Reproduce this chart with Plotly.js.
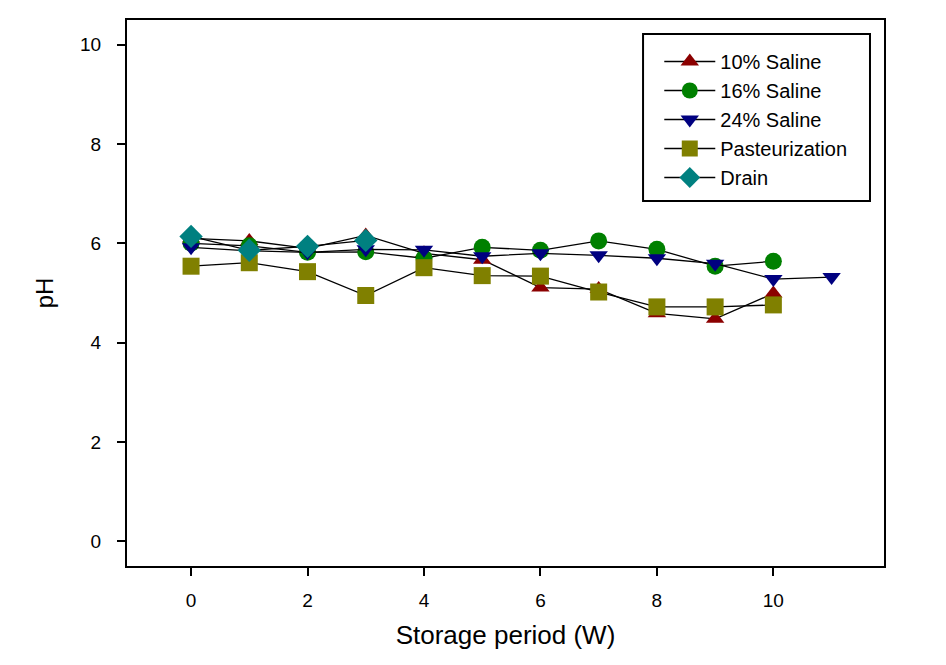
<!DOCTYPE html>
<html>
<head>
<meta charset="utf-8">
<script src="https://cdn.plot.ly/plotly-3.0.1.min.js"></script>
<style>html,body{margin:0;padding:0;background:#fff;}#chart{width:946px;height:665px;}</style>
</head>
<body>
<div id="chart"></div>
<script>
var weeks = [0, 1, 2, 3, 4, 5, 6, 7, 8, 9, 10, 11];
var saline10 = [6.10, 6.05, 5.90, 6.16, 5.80, 5.67, 5.11, 5.08, 4.59, 4.48, 4.99];
var saline16 = [6.00, 5.95, 5.82, 5.83, 5.70, 5.92, 5.86, 6.05, 5.88, 5.54, 5.64];
var saline24 = [5.92, 5.85, 5.82, 5.88, 5.87, 5.74, 5.80, 5.76, 5.70, 5.59, 5.28, 5.32];
var pasteurization = [5.54, 5.61, 5.43, 4.95, 5.51, 5.35, 5.34, 5.02, 4.72, 4.72, 4.76];
var drain = [6.14, 5.86, 5.94, 6.06];
var seriesNames = ["10% Saline", "16% Saline", "24% Saline", "Pasteurization", "Drain"];
var xTicks = [0, 2, 4, 6, 8, 10];
var yTicks = [0, 2, 4, 6, 8, 10];

var seriesData = [saline10, saline16, saline24, pasteurization, drain];
var colors = ["#8b0000", "#008000", "#000080", "#808000", "#008080"];
var symbols = ["triangle-up", "circle", "triangle-down", "square", "diamond"];
var sizes = [16, 17, 16, 17, 18];

var traces = seriesData.map(function (vals, i) {
  return {
    x: weeks.slice(0, vals.length),
    y: vals,
    name: seriesNames[i],
    type: "scatter",
    mode: "lines+markers",
    line: {color: "#000000", width: 1.3},
    marker: {symbol: symbols[i], size: sizes[i], color: colors[i], line: {width: 0}}
  };
});

var layout = {
  width: 946,
  height: 665,
  paper_bgcolor: "#ffffff",
  plot_bgcolor: "#ffffff",
  margin: {l: 127, r: 62, t: 20, b: 99},
  font: {family: "Liberation Sans, Arial, sans-serif", color: "#000000"},
  showlegend: true,
  legend: {
    x: 0.682, y: 0.9597, xanchor: "left", yanchor: "top",
    bgcolor: "rgba(0,0,0,0)", borderwidth: 0,
    font: {size: 20, color: "#000000"},
    indentation: 16,
    itemwidth: 51,
    tracegroupgap: 0
  },
  shapes: [{
    type: "rect", xref: "paper", yref: "paper",
    x0: 0.6817, x1: 0.9815, y0: 0.6685, y1: 0.9744,
    line: {color: "#000000", width: 2}, fillcolor: "#ffffff", layer: "below"
  }],
  xaxis: {
    range: [-1.1, 11.9],
    tickvals: xTicks,
    ticktext: xTicks.map(String),
    ticks: "outside", ticklen: 8, tickwidth: 2, tickcolor: "#000",
    ticklabelstandoff: 8,
    showline: true, linecolor: "#000", linewidth: 2, mirror: true,
    showgrid: false, zeroline: false,
    tickfont: {size: 19},
    title: {text: "Storage period (W)", font: {size: 26}, standoff: 16}
  },
  yaxis: {
    range: [-0.5, 10.5],
    tickvals: yTicks,
    ticktext: yTicks.map(String),
    ticks: "outside", ticklen: 8, tickwidth: 2, tickcolor: "#000",
    ticklabelstandoff: 12,
    showline: true, linecolor: "#000", linewidth: 2, mirror: true,
    showgrid: false, zeroline: false,
    tickfont: {size: 19},
    title: {text: "pH", font: {size: 24}, standoff: 20}
  }
};

Plotly.newPlot("chart", traces, layout, {displayModeBar: false, staticPlot: true});
</script>
</body>
</html>
